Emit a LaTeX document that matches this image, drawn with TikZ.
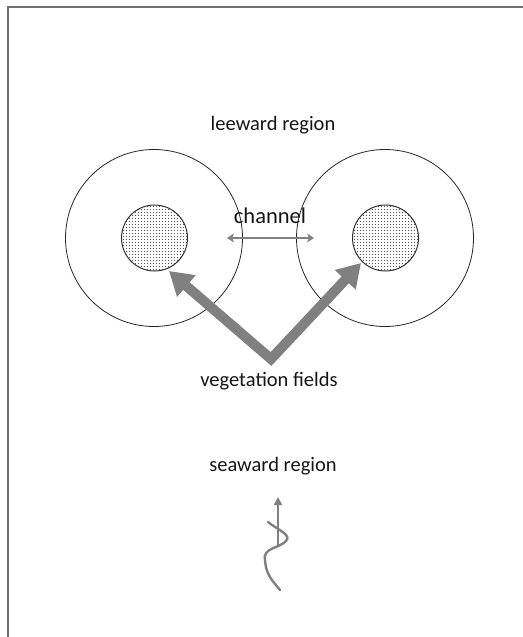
\documentclass[tikz,border=0pt]{standalone}
\usepackage{fontspec}
\setmainfont{Carlito}
\usetikzlibrary{arrows.meta,patterns}
\pgfdeclarepatternformonly{bigdots}{\pgfpointorigin}{\pgfpoint{3.4pt}{3.4pt}}{\pgfpoint{3.4pt}{3.4pt}}{%
  \pgfpathcircle{\pgfpoint{1.7pt}{1.7pt}}{0.75pt}\pgfusepath{fill}}
\definecolor{arrgray}{HTML}{808080}
\definecolor{framegray}{HTML}{707070}
\definecolor{txt}{HTML}{151515}
\tikzset{
  outer/.style={circle,draw=black!85,line width=0.8pt,minimum size=177pt,inner sep=0pt},
  inner/.style={circle,draw=black!80,line width=1pt,minimum size=66pt,inner sep=0pt,pattern=bigdots,pattern color=black!65},
  lbl/.style={text=txt,font=\fontsize{20.5}{24}\selectfont,inner sep=0pt},
  bigarrow/.style={draw=arrgray,line width=10pt,line join=miter,{Triangle[width=27pt,length=23pt]}-{Triangle[width=27pt,length=23pt]}},
  chanarrow/.style={draw=arrgray,line width=2.6pt,{Stealth[width=9pt,length=7pt,inset=2pt]}-{Stealth[width=9pt,length=7pt,inset=2pt]}},
  wavearrow/.style={draw=arrgray,line width=2.2pt,-{Triangle[width=8pt,length=8pt]}},
  waveline/.style={draw=arrgray,line width=2.4pt,line cap=round}
}
\begin{document}
\begin{tikzpicture}[x=1pt,y=-1pt]
\useasboundingbox (0,0) rectangle (522,637);
\draw[framegray,line width=1.8pt] (8,7) rectangle (560,680);
% circles
\node[outer] (ol) at (154,238) {};
\node[outer] (or) at (385,238) {};
\node[inner] (il) at (154.5,238) {};
\node[inner] (ir) at (385.5,238) {};
% labels
\node[lbl] (lee) at (273,125) {leeward region};
\node[lbl,font=\fontsize{22.5}{26}\selectfont] (chan) at (270,216) {channel};
\node[lbl] (veg) at (269,381) {vegetation fields};
\node[lbl] (sea) at (273,466) {seaward region};
% channel arrow
\coordinate (cl) at (227,238);
\coordinate (cr) at (314,238);
\draw[chanarrow] (cl) -- (cr);
% big arrows
\coordinate (apex) at (271,359);
\coordinate (tipL) at (169,271);
\coordinate (tipR) at (361,263);
\draw[bigarrow] (tipL) -- (apex) -- (tipR);
% wave
\coordinate (wb) at (278,546);
\coordinate (wt) at (278,497);
\draw[wavearrow] (wb) -- (wt);
\coordinate (w0) at (268,522);
\coordinate (w1) at (286,541);
\coordinate (w2) at (265,560);
\coordinate (w3) at (280,590);
\draw[waveline] (w0) .. controls (278,530) and (292,535) .. (w1)
  .. controls (280,548) and (262,548) .. (w2)
  .. controls (266,575) and (272,580) .. (w3);
\end{tikzpicture}
\end{document}
